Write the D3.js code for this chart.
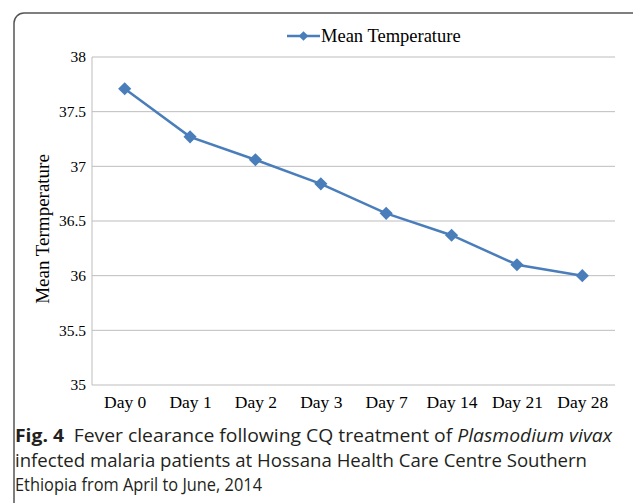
<!DOCTYPE html>
<html>
<head>
<meta charset="utf-8">
<script src="https://cdn.jsdelivr.net/npm/d3@7"></script>
<style>
  body { margin: 0; background: #fff; }
  svg { display: block; }
</style>
</head>
<body>
<svg></svg>
<script>
const width = 633;
const height = 503;

const days = ['Day 0', 'Day 1', 'Day 2', 'Day 3', 'Day 7', 'Day 14', 'Day 21', 'Day 28'];
const meanTemp = [37.71, 37.27, 37.06, 36.84, 36.57, 36.37, 36.10, 36.00];
const yTicks = [35, 35.5, 36, 36.5, 37, 37.5, 38];
const captionLines = [
    ['Fever clearance following CQ treatment of ', 'Plasmodium vivax'],
    ['infected malaria patients at Hossana Health Care Centre Southern'],
    ['Ethiopia from April to June, 2014']
];

const margin = {top: 57, right: 18, bottom: 118, left: 92};
const blue = '#4a7ebb';
const serif = '"Liberation Serif", "Times New Roman", serif';

const svg = d3.select('svg')
    .attr('width', width)
    .attr('height', height);

// rounded frame, open at the bottom
svg.append('rect')
    .attr('x', 14)
    .attr('y', 13)
    .attr('width', 640)
    .attr('height', 560)
    .attr('rx', 10)
    .attr('fill', 'none')
    .attr('stroke', '#555')
    .attr('stroke-width', 1.5);

const x = d3.scalePoint()
    .domain(days)
    .range([margin.left, width - margin.right])
    .padding(0.5);

const y = d3.scaleLinear()
    .domain([35, 38])
    .range([height - margin.bottom, margin.top]);

// gridlines
svg.append('g')
    .selectAll('line')
    .data(yTicks)
    .join('line')
        .attr('x1', margin.left)
        .attr('x2', width - margin.right)
        .attr('y1', d => y(d))
        .attr('y2', d => y(d))
        .attr('stroke', '#bdbdbd')
        .attr('stroke-width', 1);

svg.append('line')
    .attr('x1', margin.left)
    .attr('x2', margin.left)
    .attr('y1', y(38))
    .attr('y2', y(35))
    .attr('stroke', '#bdbdbd');

const yAxis = svg.append('g')
    .attr('transform', `translate(${margin.left}, 0)`)
    .call(d3.axisLeft(y).tickValues(yTicks).tickSize(0).tickPadding(6).tickFormat(d3.format('')));
yAxis.select('.domain').remove();
yAxis.selectAll('text')
    .style('font-family', serif)
    .style('font-size', '15.5px')
    .attr('fill', '#000');

const xAxis = svg.append('g')
    .attr('transform', `translate(0, ${y(35)})`)
    .call(d3.axisBottom(x).tickSize(0).tickPadding(11));
xAxis.select('.domain').remove();
xAxis.selectAll('text')
    .style('font-family', serif)
    .style('font-size', '17.5px')
    .attr('fill', '#000');

svg.append('text')
    .attr('transform', `translate(49, 229) rotate(-90)`)
    .attr('text-anchor', 'middle')
    .style('font-family', serif)
    .style('font-size', '19px')
    .text('Mean Termperature');

const line = d3.line()
    .x((d, i) => x(days[i]))
    .y(d => y(d));

svg.append('path')
    .datum(meanTemp)
    .attr('d', line)
    .attr('fill', 'none')
    .attr('stroke', blue)
    .attr('stroke-width', 2.5);

const diamond = d3.symbol().type(d3.symbolDiamond2).size(110);

svg.append('g')
    .selectAll('path')
    .data(meanTemp)
    .join('path')
        .attr('transform', (d, i) => `translate(${x(days[i])}, ${y(d)})`)
        .attr('d', diamond)
        .attr('fill', blue);

// legend
const legend = svg.append('g').attr('transform', 'translate(287, 36)');
legend.append('line')
    .attr('x1', 0).attr('x2', 33)
    .attr('stroke', blue)
    .attr('stroke-width', 2.5);
legend.append('path')
    .attr('transform', 'translate(16.5, 0)')
    .attr('d', d3.symbol().type(d3.symbolDiamond2).size(60))
    .attr('fill', blue);
legend.append('text')
    .attr('x', 34)
    .attr('dy', '0.33em')
    .style('font-family', serif)
    .style('font-size', '18.5px')
    .text('Mean Temperature');

// caption
const cap = svg.append('g').style('font-family', '"Open Sans", sans-serif').style('font-size', '18.5px').attr('fill', '#231f20');
const first = cap.append('text').attr('x', 15).attr('y', 442)
    .attr('textLength', 597).attr('lengthAdjust', 'spacingAndGlyphs');
first.append('tspan').style('font-weight', 'bold').text('Fig. 4');
first.append('tspan').text('\u2002' + captionLines[0][0]);
first.append('tspan').style('font-style', 'italic').text(captionLines[0][1]);

cap.append('text').attr('x', 15).attr('y', 467)
    .attr('textLength', 572).attr('lengthAdjust', 'spacingAndGlyphs')
    .text(captionLines[1][0]);
cap.append('text').attr('x', 15).attr('y', 491)
    .attr('textLength', 247).attr('lengthAdjust', 'spacingAndGlyphs')
    .text(captionLines[2][0]);
</script>
</body>
</html>
